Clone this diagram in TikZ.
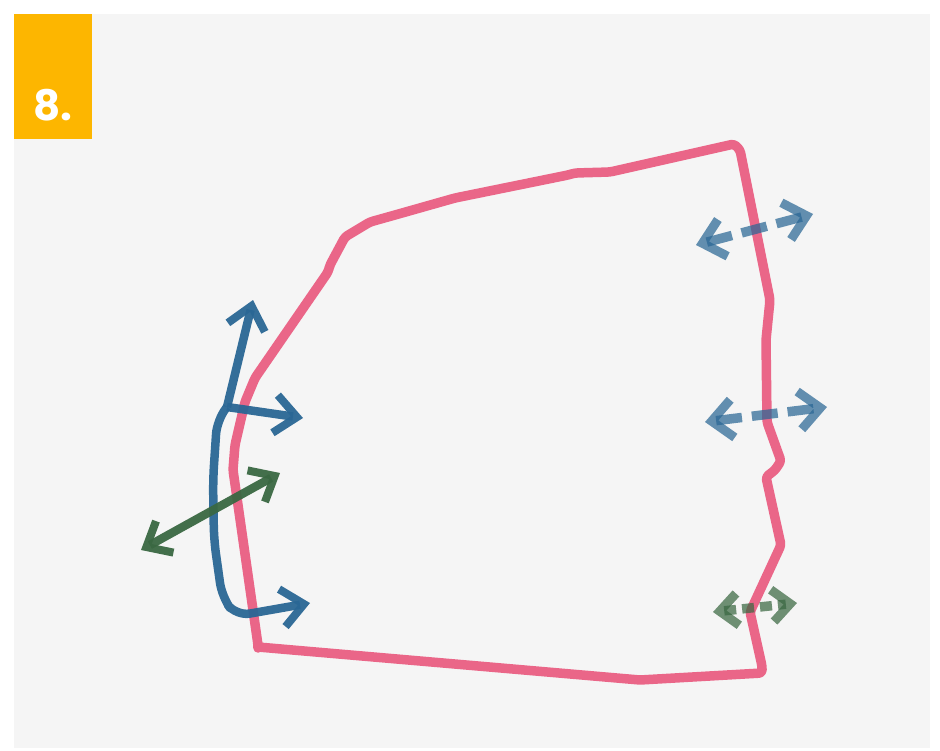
\documentclass[tikz,border=0pt]{standalone}
\usepackage{fontspec}
\newfontfamily\popfont{Poppins}
\usetikzlibrary{arrows.meta}
\definecolor{bgpanel}{HTML}{F5F5F5}
\definecolor{badge}{HTML}{FDB600}
\definecolor{routepink}{HTML}{EA5A7F}
\definecolor{flowblue}{HTML}{2A6795}
\definecolor{flowgreen}{HTML}{3A6842}
\tikzset{
  route/.style={draw=routepink, draw opacity=0.92, line width=9.5pt, line join=round, line cap=round, rounded corners=3pt},
  solidarrow/.style={draw=flowblue, draw opacity=0.95, line width=8.5pt, line join=round,
     arrows={-Straight Barb[length=22pt, width=38pt, line width=8pt]}},
  greenarrow/.style={draw=flowgreen, draw opacity=0.95, line width=8.5pt,
     arrows={Straight Barb[length=21pt, width=36pt, line width=8pt]-Straight Barb[length=21pt, width=36pt, line width=8pt]}},
  dashblue/.style={draw=flowblue, draw opacity=0.72, line width=9.5pt, dash pattern=on 26pt off 10pt,
     arrows={Straight Barb[length=21pt, width=38pt, line width=9pt]-Straight Barb[length=21pt, width=38pt, line width=9pt]}},
  dotgreen/.style={draw=flowgreen, draw opacity=0.72, line width=9.5pt, dash pattern=on 12pt off 6pt,
     arrows={Straight Barb[length=18pt, width=32pt, line width=9pt]-Straight Barb[length=18pt, width=32pt, line width=9pt]}},
}
\begin{document}
\begin{tikzpicture}[x=1pt,y=-1pt]
\useasboundingbox (0,0) rectangle (940,750);
\fill[white] (0,0) rectangle (940,750);
\fill[bgpanel] (14,14) rectangle (930,748);
\fill[badge] (14,14) rectangle (92,139);
\node[anchor=base west, inner sep=0pt, text=white] (lbl) at (33,120) {\popfont\bfseries\fontsize{42pt}{48pt}\selectfont 8.};

% pink route
\draw[route] (258,647) -- (640,680) -- (762,673) -- (762,666) -- (750,612) -- (781,545) -- (766,477)
  -- (775,470) -- (781,461) -- (767,422) -- (766,340) -- (770,300) -- (740,150) -- (734,144)
  -- (610,172) -- (575,173) -- (568,175) -- (455,198) -- (395,215) -- (370,222) -- (345,237)
  -- (330,265) -- (328,272) -- (255,378) -- (245,402) -- (235,445) -- (233,470) -- (258,645) -- cycle;

% left solid blue arrows
\coordinate (corner) at (227,407);
\coordinate (uptip) at (253,300);
\coordinate (midtip) at (303,418);
\coordinate (lowtip) at (310,603);
\draw[solidarrow] (corner) -- (uptip);
\draw[solidarrow] (corner) -- (midtip);
\draw[solidarrow, rounded corners=14pt] (corner) -- (217,420) -- (213,480) -- (214,540) -- (222,597) -- (236,616) -- (lowtip);

% green two-way arrow
\coordinate (gl) at (141,550);
\coordinate (gr) at (280,473);
\draw[greenarrow] (gl) -- (gr);

% right dashed arrows
\coordinate (a1l) at (696,245);
\coordinate (a1r) at (813,214);
\coordinate (a2l) at (705,422);
\coordinate (a2r) at (827,407);
\coordinate (a3l) at (713,612);
\coordinate (a3r) at (797,603);
\draw[dashblue] (a1l) -- (a1r);
\draw[dashblue] (a2l) -- (a2r);
\draw[dotgreen] (a3l) -- (a3r);
\end{tikzpicture}
\end{document}
